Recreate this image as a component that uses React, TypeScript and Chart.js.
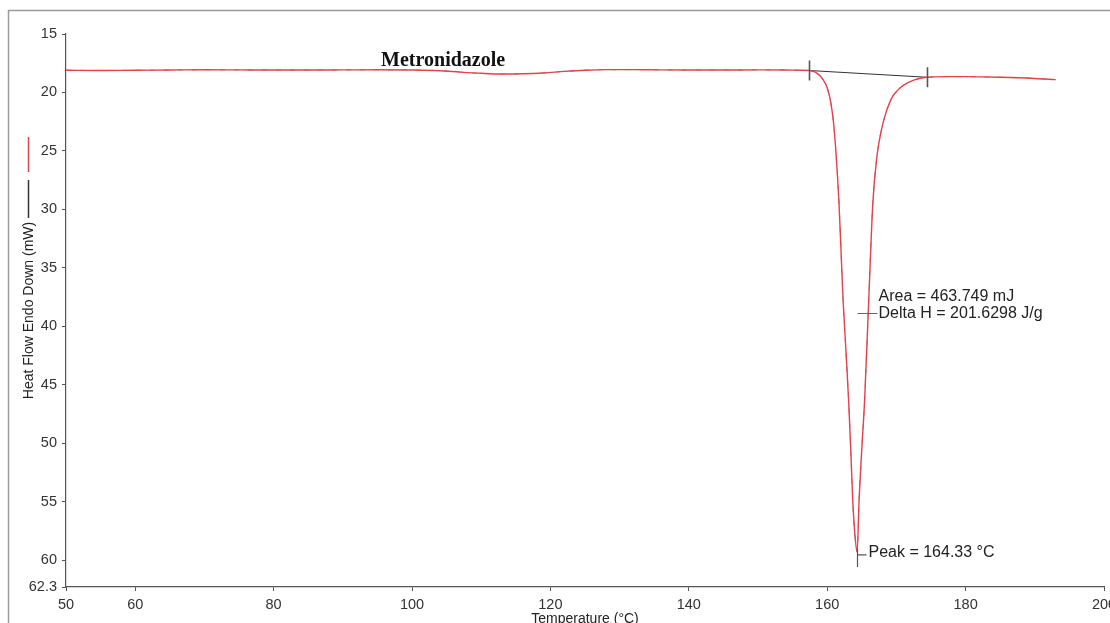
import React, { useEffect, useRef } from "react";
import { Chart, registerables } from "chart.js";

Chart.register(...registerables);

// ---- data ----
const temperatureC = [
  50, 55, 60, 65, 70, 75, 80, 85, 90, 95, 100, 104, 107, 110, 113, 116, 119, 122, 125, 128,
  132, 136, 140, 145, 150, 154, 156, 157.4, 158, 158.5, 159, 159.5, 160, 160.5, 160.9,
  161.3, 161.7, 162.3, 162.7, 163.1, 163.4, 163.7, 164.0, 164.33, 164.6, 165.0, 165.4,
  166.0, 166.6, 167.2, 167.8, 168.4, 169.0, 169.5, 170.2, 171.0, 172.5, 174.4, 177, 180,
  185, 190, 193,
];
const heatFlowMW = [
  18.1, 18.12, 18.1, 18.08, 18.06, 18.07, 18.08, 18.08, 18.07, 18.06, 18.08, 18.14, 18.26,
  18.36, 18.42, 18.4, 18.33, 18.2, 18.1, 18.05, 18.05, 18.07, 18.08, 18.08, 18.07, 18.08,
  18.1, 18.12, 18.2, 18.35, 18.6, 19.0, 19.6, 20.8, 22.5, 25.4, 29.4, 37.8, 42.0, 46.4,
  50.5, 55.0, 57.8, 59.3, 55.0, 50.5, 46.4, 37.8, 29.4, 25.4, 23.3, 21.9, 20.9, 20.3,
  19.8, 19.4, 18.95, 18.7, 18.65, 18.65, 18.7, 18.8, 18.9,
];
const baselineT = [157.4, 174.4];
const baselineMW = [18.12, 18.7];
const xTicks = [50, 60, 80, 100, 120, 140, 160, 180, 200];
const yTicks = [15, 20, 25, 30, 35, 40, 45, 50, 55, 60, 62.3];

const sampleName = "Metronidazole";
const sampleNameT = 104.5;
const sampleNameMW = 17.75;
const peakT = 164.33;
const peakMW = 59.3;
const peakLabel = "Peak = 164.33 °C";
const areaLabel = "Area = 463.749 mJ";
const deltaHLabel = "Delta H = 201.6298 J/g";
const deltaHMW = 38.9;
const xTitle = "Temperature (°C)";
const yTitle = "Heat Flow Endo Down (mW)";

const SANS = "'Liberation Sans', Arial, sans-serif";

const decorPlugin = {
  id: "decor",
  beforeDraw(chart: any) {
    const { ctx, width, height } = chart;
    ctx.save();
    ctx.fillStyle = "#ffffff";
    ctx.fillRect(0, 0, width, height);
    ctx.strokeStyle = "#9a9a9a";
    ctx.lineWidth = 1.5;
    ctx.strokeRect(8.5, 10.5, width + 20, height + 20);
    ctx.restore();
  },
  afterDatasetsDraw(chart: any) {
    const { ctx, chartArea } = chart;
    const xs = chart.scales.x;
    const ys = chart.scales.y;
    const px = (v: number) => xs.getPixelForValue(v);
    const py = (v: number) => ys.getPixelForValue(v);
    ctx.save();

    // baseline end ticks
    ctx.strokeStyle = "#555";
    ctx.lineWidth = 1.6;
    for (let i = 0; i < baselineT.length; i++) {
      const x = Math.round(px(baselineT[i])) + 0.5;
      const y = py(baselineMW[i]);
      ctx.beginPath();
      ctx.moveTo(x, y - 10);
      ctx.lineTo(x, y + 10);
      ctx.stroke();
    }

    // peak marker
    const xp = Math.round(px(peakT)) + 0.5;
    const yp = py(peakMW);
    ctx.lineWidth = 1.2;
    ctx.beginPath();
    ctx.moveTo(xp, yp - 3);
    ctx.lineTo(xp, yp + 15);
    ctx.moveTo(xp, yp + 3);
    ctx.lineTo(xp + 9, yp + 3);
    ctx.stroke();

    ctx.fillStyle = "#222";
    ctx.font = `16px ${SANS}`;
    ctx.textBaseline = "middle";
    ctx.textAlign = "left";
    ctx.fillText(peakLabel, xp + 11, yp + 1);

    // delta H connector
    const yd = Math.round(py(deltaHMW)) + 0.5;
    ctx.lineWidth = 1;
    ctx.strokeStyle = "#666";
    ctx.beginPath();
    ctx.moveTo(xp, yd);
    ctx.lineTo(xp + 20, yd);
    ctx.stroke();
    ctx.textBaseline = "alphabetic";
    ctx.fillText(areaLabel, xp + 21, yd - 13);
    ctx.fillText(deltaHLabel, xp + 21, yd + 4);

    // sample name
    ctx.font = `bold 20px 'Liberation Serif', 'Times New Roman', serif`;
    ctx.textAlign = "center";
    ctx.fillStyle = "#111";
    ctx.fillText(sampleName, px(sampleNameT), py(sampleNameMW));

    // axis titles
    ctx.font = `14px ${SANS}`;
    ctx.fillStyle = "#222";
    ctx.textAlign = "center";
    ctx.textBaseline = "middle";
    ctx.fillText(xTitle, (chartArea.left + chartArea.right) / 2, 619);

    const cy = (chartArea.top + chartArea.bottom) / 2;
    ctx.save();
    ctx.translate(29, cy);
    ctx.rotate(-Math.PI / 2);
    ctx.fillText(yTitle, 0, 0);
    ctx.restore();

    // legend keys beside y title
    ctx.lineWidth = 1.5;
    ctx.strokeStyle = "#e0454f";
    ctx.beginPath();
    ctx.moveTo(28.5, 137);
    ctx.lineTo(28.5, 172);
    ctx.stroke();
    ctx.strokeStyle = "#333";
    ctx.beginPath();
    ctx.moveTo(28.5, 180);
    ctx.lineTo(28.5, 218);
    ctx.stroke();

    ctx.restore();
  },
};

export default function App() {
  const ref = useRef<HTMLCanvasElement | null>(null);

  useEffect(() => {
    if (!ref.current) return;
    const curve = temperatureC.map((t, i) => ({ x: t, y: heatFlowMW[i] }));
    const base = baselineT.map((t, i) => ({ x: t, y: baselineMW[i] }));
    const chart = new Chart(ref.current, {
      type: "line",
      data: {
        datasets: [
          {
            data: curve,
            borderColor: "#e3424c",
            borderWidth: 1.4,
            pointRadius: 0,
            cubicInterpolationMode: "monotone",
          },
          {
            data: curve,
            borderColor: "rgba(70,30,30,0.5)",
            borderWidth: 1,
            borderDash: [5, 9],
            pointRadius: 0,
            cubicInterpolationMode: "monotone",
          },
          {
            data: base,
            borderColor: "#333",
            borderWidth: 1.2,
            pointRadius: 0,
          },
        ],
      },
      options: {
        responsive: false,
        animation: false,
        devicePixelRatio: 1,
        layout: { padding: { top: 34, right: 6, left: 0, bottom: 0 } },
        plugins: { legend: { display: false }, tooltip: { enabled: false } },
        scales: {
          x: {
            type: "linear",
            min: 50,
            max: 200,
            afterBuildTicks: (s: any) => {
              s.ticks = xTicks.map((v) => ({ value: v }));
            },
            afterFit: (s: any) => {
              s.height = 36;
              s.paddingLeft = 0;
              s.paddingRight = 0;
            },
            grid: {
              drawOnChartArea: false,
              tickLength: 4,
              color: "#555",
            },
            border: { display: true, color: "#555", width: 1.2 },
            ticks: {
              autoSkip: false,
              maxRotation: 0,
              padding: 5,
              color: "#333",
              font: { family: SANS, size: 14.5 },
              callback: (v: any) => String(v),
            },
          },
          y: {
            type: "linear",
            min: 15,
            max: 62.3,
            reverse: true,
            afterBuildTicks: (s: any) => {
              s.ticks = yTicks.map((v) => ({ value: v }));
            },
            afterFit: (s: any) => {
              s.width = 66;
              s.paddingTop = 0;
              s.paddingBottom = 0;
            },
            grid: {
              drawOnChartArea: false,
              tickLength: 4,
              color: "#555",
            },
            border: { display: true, color: "#555", width: 1.2 },
            ticks: {
              autoSkip: false,
              padding: 5,
              color: "#333",
              font: { family: SANS, size: 14.5 },
              callback: (v: any) => String(v),
            },
          },
        },
      },
      plugins: [decorPlugin],
    });
    return () => chart.destroy();
  }, []);

  return (
    <div style={{ position: "absolute", left: 0, top: 0, width: 1110, height: 623, overflow: "hidden" }}>
      <canvas ref={ref} width={1110} height={623} style={{ width: 1110, height: 623, display: "block" }} />
    </div>
  );
}
